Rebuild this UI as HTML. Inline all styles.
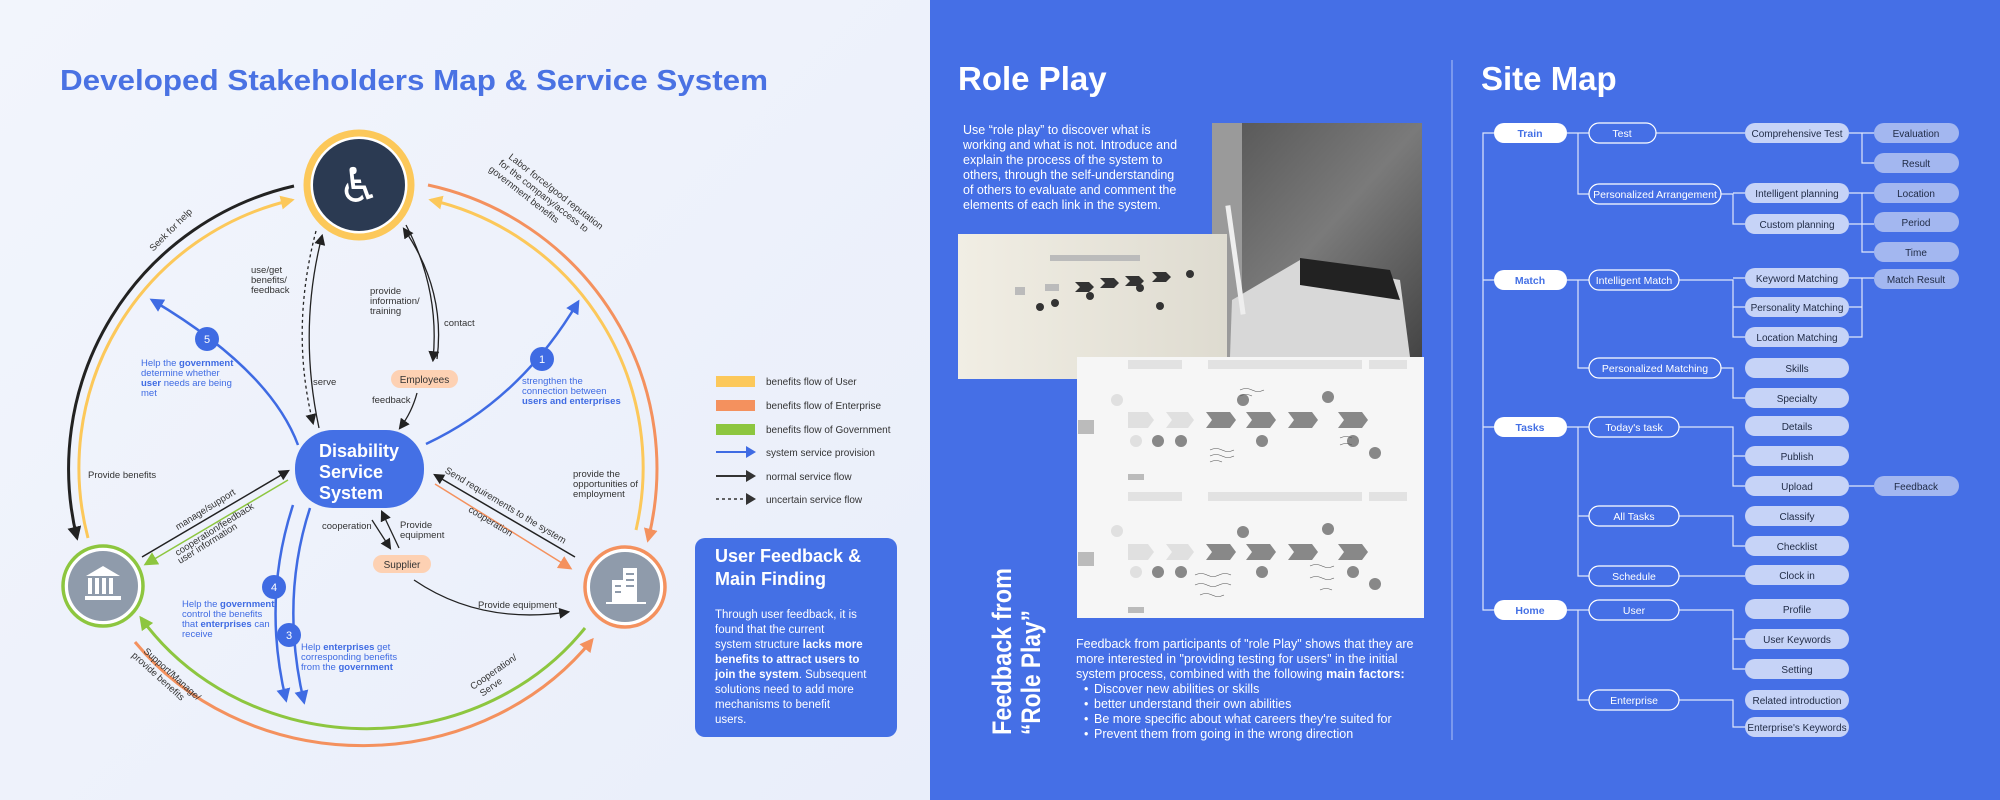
<!DOCTYPE html>
<html><head><meta charset="utf-8">
<style>
html,body{margin:0;padding:0;}
body{width:2000px;height:800px;position:relative;overflow:hidden;font-family:"Liberation Sans",sans-serif;background:#eef2fb;}
.abs{position:absolute;}
</style></head>
<body>
<div class="abs" style="left:0;top:0;width:930px;height:800px;background:linear-gradient(135deg,#f2f5fc,#e9eefa);"></div>
<div class="abs" style="left:930px;top:0;width:1070px;height:800px;background:#456fe6;"></div>

<svg class="abs" style="left:0;top:0" width="2000" height="800" viewBox="0 0 2000 800" font-family="Liberation Sans, sans-serif">
<defs>
<marker id="ak" viewBox="0 0 10 10" refX="8" refY="5" markerWidth="11" markerHeight="11" markerUnits="userSpaceOnUse" orient="auto"><path d="M0,0L10,5L0,10z" fill="#222"/></marker>
<marker id="ab" viewBox="0 0 10 10" refX="8" refY="5" markerWidth="14" markerHeight="14" markerUnits="userSpaceOnUse" orient="auto"><path d="M0,0L10,5L0,10z" fill="#3f6be3"/></marker>
<marker id="ay" viewBox="0 0 10 10" refX="8" refY="5" markerWidth="14" markerHeight="14" markerUnits="userSpaceOnUse" orient="auto"><path d="M0,0L10,5L0,10z" fill="#fcc85a"/></marker>
<marker id="ao" viewBox="0 0 10 10" refX="8" refY="5" markerWidth="14" markerHeight="14" markerUnits="userSpaceOnUse" orient="auto"><path d="M0,0L10,5L0,10z" fill="#f4915e"/></marker>
<marker id="ag" viewBox="0 0 10 10" refX="8" refY="5" markerWidth="14" markerHeight="14" markerUnits="userSpaceOnUse" orient="auto"><path d="M0,0L10,5L0,10z" fill="#8dc63f"/></marker>
<marker id="ak2" viewBox="0 0 10 10" refX="8" refY="5" markerWidth="14" markerHeight="14" markerUnits="userSpaceOnUse" orient="auto"><path d="M0,0L10,5L0,10z" fill="#222"/></marker>
<linearGradient id="gp" x1="0" y1="0" x2="1" y2="1"><stop offset="0" stop-color="#555"/><stop offset="0.5" stop-color="#7a7a7a"/><stop offset="1" stop-color="#444"/></linearGradient>
<linearGradient id="gpaper" x1="0" y1="0" x2="1" y2="0"><stop offset="0" stop-color="#f1eee4"/><stop offset="1" stop-color="#dedbd0"/></linearGradient>
</defs>

<text x="60" y="90" font-size="29" font-weight="bold" fill="#4a72e3" textLength="708" lengthAdjust="spacingAndGlyphs">Developed Stakeholders Map &amp; Service System</text>

<path d="M294,186 A290,290 0 0 0 77,538" fill="none" stroke="#222" stroke-width="3" marker-end="url(#ak2)"/>
<path d="M88,538 A275,275 0 0 1 292,200" fill="none" stroke="#fcc85a" stroke-width="3" marker-end="url(#ay)"/>
<path d="M428,185 A290,290 0 0 1 648,540" fill="none" stroke="#f4915e" stroke-width="3" marker-end="url(#ao)"/>
<path d="M636,530 A275,275 0 0 0 431,200" fill="none" stroke="#fcc85a" stroke-width="3" marker-end="url(#ay)"/>
<path d="M135,642 A285,260 0 0 0 592,640" fill="none" stroke="#f4915e" stroke-width="3" marker-end="url(#ao)"/>
<path d="M585,628 A270,245 0 0 1 141,618" fill="none" stroke="#8dc63f" stroke-width="3" marker-end="url(#ag)"/>

<circle cx="359" cy="185" r="52" fill="#fff" stroke="#fcc85a" stroke-width="7"/>
<circle cx="359" cy="185" r="46" fill="#2b3a52"/>
<text x="359" y="202" font-size="48" fill="#fff" text-anchor="middle" font-family="DejaVu Sans, sans-serif">♿</text>

<circle cx="103" cy="586" r="40" fill="#fff" stroke="#8dc63f" stroke-width="3.5"/>
<circle cx="103" cy="586" r="35" fill="#8f9bab"/>
<g fill="#fff"><path d="M86,576 L103,566 L120,576z"/><rect x="88" y="578" width="4" height="16"/><rect x="95" y="578" width="4" height="16"/><rect x="102" y="578" width="4" height="16"/><rect x="109" y="578" width="4" height="16"/><rect x="85" y="596" width="36" height="4"/></g>

<circle cx="625" cy="587" r="40" fill="#fff" stroke="#f4915e" stroke-width="3.5"/>
<circle cx="625" cy="587" r="35" fill="#8f9bab"/>
<g fill="#fff"><rect x="623" y="568" width="14" height="34"/><rect x="612" y="580" width="12" height="22"/><rect x="606" y="602" width="40" height="2"/></g>
<g fill="#8f9bab"><rect x="626" y="573" width="8" height="2"/><rect x="626" y="579" width="8" height="2"/><rect x="626" y="585" width="8" height="2"/><rect x="615" y="585" width="6" height="2"/><rect x="615" y="591" width="6" height="2"/></g>

<rect x="295" y="430" width="129" height="78" rx="38" fill="#4470e5"/>
<g fill="#fff" font-size="18" font-weight="bold"><text x="319" y="457">Disability</text><text x="319" y="478">Service</text><text x="319" y="499">System</text></g>

<rect x="391" y="370" width="67" height="18" rx="9" fill="#fdd1b3"/>
<text x="424.5" y="383" font-size="10" text-anchor="middle" fill="#333">Employees</text>
<rect x="373" y="555" width="58" height="18" rx="9" fill="#fdd1b3"/>
<text x="402" y="568" font-size="10" text-anchor="middle" fill="#333">Supplier</text>

<path d="M298,445 Q270,370 152,300" fill="none" stroke="#3f6be3" stroke-width="2.5" marker-end="url(#ab)"/>
<path d="M426,444 Q520,400 578,302" fill="none" stroke="#3f6be3" stroke-width="2.5" marker-end="url(#ab)"/>
<path d="M293,505 Q262,600 286,700" fill="none" stroke="#3f6be3" stroke-width="2.5" marker-end="url(#ab)"/>
<path d="M310,508 Q280,600 304,702" fill="none" stroke="#3f6be3" stroke-width="2.5" marker-end="url(#ab)"/>
<g fill="#3f6be3"><circle cx="207" cy="339" r="12"/><circle cx="542" cy="359" r="12"/><circle cx="274" cy="587" r="12"/><circle cx="289" cy="635" r="12"/></g>
<g fill="#fff" font-size="11" text-anchor="middle"><text x="207" y="343">5</text><text x="542" y="363">1</text><text x="274" y="591">4</text><text x="289" y="639">3</text></g>

<path d="M316,231 Q290,330 313,423" fill="none" stroke="#222" stroke-width="1.3" stroke-dasharray="3,3" marker-end="url(#ak)"/>
<path d="M319,428 Q298,330 322,236" fill="none" stroke="#222" stroke-width="1.3" marker-end="url(#ak)"/>
<path d="M406,225 Q440,290 433,360" fill="none" stroke="#222" stroke-width="1.3" marker-end="url(#ak)"/>
<path d="M437,359 Q446,290 404,229" fill="none" stroke="#222" stroke-width="1.3" marker-end="url(#ak)"/>
<path d="M417,393 Q412,412 400,428" fill="none" stroke="#222" stroke-width="1.3" marker-end="url(#ak)"/>
<path d="M142,557 L288,471" fill="none" stroke="#222" stroke-width="1.5" marker-end="url(#ak)"/>
<path d="M288,480 L146,564" fill="none" stroke="#8dc63f" stroke-width="1.5" marker-end="url(#ag)"/>
<path d="M575,557 L435,475" fill="none" stroke="#222" stroke-width="1.5" marker-end="url(#ak)"/>
<path d="M435,484 L570,568" fill="none" stroke="#f4915e" stroke-width="1.5" marker-end="url(#ao)"/>
<path d="M372,520 L390,548" fill="none" stroke="#222" stroke-width="1.3" marker-end="url(#ak)"/>
<path d="M399,548 L382,512" fill="none" stroke="#222" stroke-width="1.3" marker-end="url(#ak)"/>
<path d="M414,580 Q480,625 568,612" fill="none" stroke="#222" stroke-width="1.3" marker-end="url(#ak)"/>

<g font-size="9.5" fill="#333">
<text x="251" y="273">use/get</text><text x="251" y="283">benefits/</text><text x="251" y="293">feedback</text>
<text x="313" y="385">serve</text>
<text x="370" y="294">provide</text><text x="370" y="304">information/</text><text x="370" y="314">training</text>
<text x="444" y="326">contact</text>
<text x="372" y="403">feedback</text>
<text x="573" y="477">provide the</text><text x="573" y="487">opportunities of</text><text x="573" y="497">employment</text>
<text x="88" y="478">Provide benefits</text>
<text x="322" y="529">cooperation</text>
<text x="400" y="528">Provide</text><text x="400" y="538">equipment</text>
<text x="478" y="608">Provide equipment</text>
<text transform="translate(173,232) rotate(-45)" text-anchor="middle">Seek for help</text>
<g transform="translate(508,158) rotate(38)"><text x="0" y="0">Labor force/good  reputation</text><text x="-4" y="11">for the company/access to</text><text x="-8" y="22">government benefits</text></g>
<text transform="translate(207,512) rotate(-32)" text-anchor="middle">manage/support</text>
<text transform="translate(216,532) rotate(-32)" text-anchor="middle">cooperation/feedback</text>
<text transform="translate(209,546) rotate(-32)" text-anchor="middle">user information</text>
<text transform="translate(504,508) rotate(31)" text-anchor="middle">Send requirements to the system</text>
<text transform="translate(489,524) rotate(31)" text-anchor="middle">cooperation</text>
<g transform="translate(143,652) rotate(42)"><text>Support/Manage/</text><text x="-6" y="11">provide benefits</text></g>
<g transform="translate(473,690) rotate(-35)"><text>Cooperation/</text><text x="4" y="11">Serve</text></g>
</g>
<g font-size="9.5" fill="#3f6be3">
<text x="141" y="366">Help the <tspan font-weight="bold">government</tspan></text><text x="141" y="376">determine whether</text><text x="141" y="386"><tspan font-weight="bold">user</tspan> needs are being</text><text x="141" y="396">met</text>
<text x="522" y="384">strengthen the</text><text x="522" y="394">connection between</text><text x="522" y="404" font-weight="bold">users and enterprises</text>
<text x="182" y="607">Help the <tspan font-weight="bold">government</tspan></text><text x="182" y="617">control the benefits</text><text x="182" y="627">that <tspan font-weight="bold">enterprises</tspan> can</text><text x="182" y="637">receive</text>
<text x="301" y="650">Help <tspan font-weight="bold">enterprises</tspan> get</text><text x="301" y="660">corresponding benefits</text><text x="301" y="670">from the <tspan font-weight="bold">government</tspan></text>
</g>

<rect x="716" y="376" width="39" height="11" fill="#fcc85a"/>
<rect x="716" y="400" width="39" height="11" fill="#f4915e"/>
<rect x="716" y="424" width="39" height="11" fill="#8dc63f"/>
<line x1="716" y1="452" x2="748" y2="452" stroke="#3f6be3" stroke-width="2"/><path d="M746,446 L756,452 L746,458z" fill="#3f6be3"/>
<line x1="716" y1="476" x2="748" y2="476" stroke="#333" stroke-width="2"/><path d="M746,470 L756,476 L746,482z" fill="#333"/>
<line x1="716" y1="499" x2="748" y2="499" stroke="#333" stroke-width="1.5" stroke-dasharray="3,3"/><path d="M746,493 L756,499 L746,505z" fill="#333"/>
<g font-size="10" fill="#333"><text x="766" y="385">benefits flow of User</text><text x="766" y="409">benefits flow of Enterprise</text><text x="766" y="433">benefits flow of Government</text><text x="766" y="456">system service provision</text><text x="766" y="480">normal service flow</text><text x="766" y="503">uncertain service flow</text></g>

<rect x="695" y="538" width="202" height="199" rx="10" fill="#4470e5"/>
<g fill="#fff" font-size="18" font-weight="bold"><text x="715" y="562">User Feedback &amp;</text><text x="715" y="585">Main Finding</text></g>
<g fill="#fff" font-size="11.5">
<text x="715" y="618">Through user feedback, it is</text>
<text x="715" y="633">found that the current</text>
<text x="715" y="648">system structure <tspan font-weight="bold">lacks more</tspan></text>
<text x="715" y="663" font-weight="bold">benefits to attract users to</text>
<text x="715" y="678"><tspan font-weight="bold">join the system</tspan>. Subsequent</text>
<text x="715" y="693">solutions need to add more</text>
<text x="715" y="708">mechanisms to benefit</text>
<text x="715" y="723">users.</text>
</g>

<text x="958" y="90" font-size="33" font-weight="bold" fill="#fff">Role Play</text>
<g fill="#fff" font-size="12.5">
<text x="963" y="134">Use “role play” to discover what is</text>
<text x="963" y="149">working and what is not. Introduce and</text>
<text x="963" y="164">explain the process of the system to</text>
<text x="963" y="179">others, through the self-understanding</text>
<text x="963" y="194">of others to evaluate and comment  the</text>
<text x="963" y="209">elements of each link in the system.</text>
</g>
<rect x="1212" y="123" width="210" height="234" fill="url(#gp)"/>
<rect x="1212" y="123" width="30" height="234" fill="#9a9a9a"/>
<path d="M1232,300 L1300,260 L1400,280 L1410,357 L1230,357z" fill="#d8d8d8"/>
<path d="M1300,258 L1390,270 L1400,300 L1300,285z" fill="#222"/>
<rect x="1233" y="205" width="5" height="110" fill="#eee" transform="rotate(-8 1235 260)"/>
<rect x="958" y="234" width="269" height="145" fill="url(#gpaper)"/>
<g fill="#333"><path d="M1075,282 l14,0 l5,5 l-5,5 l-14,0 l5,-5z"/><path d="M1100,278 l14,0 l5,5 l-5,5 l-14,0 l5,-5z"/><path d="M1125,276 l14,0 l5,5 l-5,5 l-14,0 l5,-5z"/><path d="M1152,272 l14,0 l5,5 l-5,5 l-14,0 l5,-5z"/><circle cx="1040" cy="307" r="4"/><circle cx="1055" cy="303" r="4"/><circle cx="1090" cy="296" r="4"/><circle cx="1140" cy="288" r="4"/><circle cx="1160" cy="306" r="4"/><circle cx="1190" cy="274" r="4"/></g>
<g fill="#bbb"><rect x="1015" y="287" width="10" height="8"/><rect x="1045" y="284" width="14" height="7"/><rect x="1050" y="255" width="90" height="6"/></g>
<rect x="1077" y="357" width="347" height="261" fill="#f6f6f6"/>
<g fill="#e2e2e2"><rect x="1128" y="360" width="54" height="9"/><rect x="1208" y="360" width="154" height="9"/><rect x="1369" y="360" width="38" height="9"/><rect x="1128" y="492" width="54" height="9"/><rect x="1208" y="492" width="154" height="9"/><rect x="1369" y="492" width="38" height="9"/></g>
<g fill="#888"><path d="M1206,412 h24 l6,8 l-6,8 h-24 l6,-8z"/><path d="M1246,412 h24 l6,8 l-6,8 h-24 l6,-8z"/><path d="M1288,412 h24 l6,8 l-6,8 h-24 l6,-8z"/><path d="M1338,412 h24 l6,8 l-6,8 h-24 l6,-8z"/><path d="M1206,544 h24 l6,8 l-6,8 h-24 l6,-8z"/><path d="M1246,544 h24 l6,8 l-6,8 h-24 l6,-8z"/><path d="M1288,544 h24 l6,8 l-6,8 h-24 l6,-8z"/><path d="M1338,544 h24 l6,8 l-6,8 h-24 l6,-8z"/>
<circle cx="1158" cy="441" r="6"/><circle cx="1181" cy="441" r="6"/><circle cx="1262" cy="441" r="6"/><circle cx="1353" cy="441" r="6"/><circle cx="1375" cy="453" r="6"/><circle cx="1243" cy="400" r="6"/><circle cx="1328" cy="397" r="6"/><circle cx="1158" cy="572" r="6"/><circle cx="1181" cy="572" r="6"/><circle cx="1262" cy="572" r="6"/><circle cx="1353" cy="572" r="6"/><circle cx="1375" cy="584" r="6"/><circle cx="1243" cy="532" r="6"/><circle cx="1328" cy="529" r="6"/></g>
<g fill="#bbb"><rect x="1078" y="420" width="16" height="14"/><rect x="1078" y="552" width="16" height="14"/><rect x="1128" y="474" width="16" height="6"/><rect x="1128" y="607" width="16" height="6"/></g>
<g fill="#e0e0e0"><path d="M1128,412 h20 l6,8 l-6,8 h-20z"/><path d="M1166,412 h22 l6,8 l-6,8 h-22 l6,-8z"/><path d="M1128,544 h20 l6,8 l-6,8 h-20z"/><path d="M1166,544 h22 l6,8 l-6,8 h-22 l6,-8z"/><circle cx="1136" cy="441" r="6"/><circle cx="1136" cy="572" r="6"/><circle cx="1117" cy="400" r="6"/><circle cx="1117" cy="531" r="6"/></g>
<g stroke="#555" stroke-width="0.6" fill="none"><path d="M1210,450 q6,-3 12,0 q6,3 12,0 M1210,456 q6,-3 12,0 q6,3 12,0 M1210,462 q6,-3 12,0 M1240,390 q6,-3 12,0 q6,3 12,0 M1240,396 q6,-3 12,0 M1340,438 q6,-3 12,0 M1340,445 q6,-3 12,0 M1195,575 q6,-3 12,0 q6,3 12,0 q6,-3 12,0 M1195,585 q6,-3 12,0 q6,3 12,0 q6,-3 12,0 M1200,595 q6,-3 12,0 q6,3 12,0 M1310,566 q6,-3 12,0 q6,3 12,0 M1310,578 q6,-3 12,0 q6,3 12,0 M1320,590 q6,-3 12,0"/></g>

<g fill="#fff" font-size="27" font-weight="bold">
<text transform="translate(1011,735) rotate(-90)" textLength="167" lengthAdjust="spacingAndGlyphs">Feedback from</text>
<text transform="translate(1040,735) rotate(-90)" textLength="125" lengthAdjust="spacingAndGlyphs">“Role Play”</text>
</g>
<g fill="#fff" font-size="12.5">
<text x="1076" y="648">Feedback from participants of "role Play" shows that they are</text>
<text x="1076" y="663">more interested in "providing testing for users" in the initial</text>
<text x="1076" y="678">system process, combined with the following <tspan font-weight="bold">main factors:</tspan></text>
<text x="1084" y="693">•</text><text x="1094" y="693">Discover new abilities or skills</text>
<text x="1084" y="708">•</text><text x="1094" y="708">better understand their own abilities</text>
<text x="1084" y="723">•</text><text x="1094" y="723">Be more specific about what careers they're suited for</text>
<text x="1084" y="738">•</text><text x="1094" y="738">Prevent them from going in the wrong direction</text>
</g>

<line x1="1452" y1="60" x2="1452" y2="740" stroke="#9fb5f2" stroke-width="1.2"/>
<text x="1481" y="90" font-size="33" font-weight="bold" fill="#fff">Site Map</text>
<g stroke="#dfe6fb" stroke-width="1.2" fill="none">
<path d="M1494,133 H1483 V610 H1494 M1483,280 H1494 M1483,427 H1494"/>
<path d="M1567,133 H1578 V194 H1589 M1578,133 H1589"/>
<path d="M1567,280 H1578 V368 H1589 M1578,280 H1589"/>
<path d="M1567,427 H1578 V576 H1589 M1578,427 H1589 M1578,516 H1589"/>
<path d="M1567,610 H1578 V700 H1589 M1578,610 H1589"/>
<path d="M1656,133 H1745"/>
<path d="M1721,194 H1733 V224 H1745 M1733,193 H1745"/>
<path d="M1679,280 H1733 V337 H1745 M1733,278 H1745 M1733,307 H1745"/>
<path d="M1721,368 H1733 V398 H1745"/>
<path d="M1679,427 H1733 V486 H1745 M1733,456 H1745"/>
<path d="M1679,516 H1733 V546 H1745"/>
<path d="M1679,576 H1745"/>
<path d="M1679,610 H1733 V669 H1745 M1733,639 H1745"/>
<path d="M1679,700 H1733 V727 H1745"/>
<path d="M1849,133 H1862 V163 H1874 M1862,133 H1874"/>
<path d="M1849,193 H1862 V252 H1874 M1862,193 H1874 M1849,224 H1874"/>
<path d="M1849,278 H1874 M1862,278 V337 H1849 M1862,307 H1849"/>
<path d="M1849,486 H1874"/>
</g>
<g font-size="10.5" text-anchor="middle">
<g fill="#fff"><rect x="1494" y="123" width="73" height="20" rx="10"/><rect x="1494" y="270" width="73" height="20" rx="10"/><rect x="1494" y="417" width="73" height="20" rx="10"/><rect x="1494" y="600" width="73" height="20" rx="10"/></g>
<g fill="#4470e5" font-weight="bold"><text x="1530" y="137">Train</text><text x="1530" y="284">Match</text><text x="1530" y="431">Tasks</text><text x="1530" y="614">Home</text></g>
<g fill="none" stroke="#fff" stroke-width="1.2">
<rect x="1589" y="123" width="67" height="20" rx="10"/><rect x="1589" y="184" width="132" height="20" rx="10"/><rect x="1589" y="270" width="90" height="20" rx="10"/><rect x="1589" y="358" width="132" height="20" rx="10"/><rect x="1589" y="417" width="90" height="20" rx="10"/><rect x="1589" y="506" width="90" height="20" rx="10"/><rect x="1589" y="566" width="90" height="20" rx="10"/><rect x="1589" y="600" width="90" height="20" rx="10"/><rect x="1589" y="690" width="90" height="20" rx="10"/>
</g>
<g fill="#fff"><text x="1622" y="137">Test</text><text x="1655" y="198">Personalized Arrangement</text><text x="1634" y="284">Intelligent Match</text><text x="1655" y="372">Personalized Matching</text><text x="1634" y="431">Today's task</text><text x="1634" y="520">All Tasks</text><text x="1634" y="580">Schedule</text><text x="1634" y="614">User</text><text x="1634" y="704">Enterprise</text></g>
<g fill="#c6d3f7">
<rect x="1745" y="123" width="104" height="20" rx="10"/><rect x="1745" y="183" width="104" height="20" rx="10"/><rect x="1745" y="214" width="104" height="20" rx="10"/><rect x="1745" y="268" width="104" height="20" rx="10"/><rect x="1745" y="297" width="104" height="20" rx="10"/><rect x="1745" y="327" width="104" height="20" rx="10"/><rect x="1745" y="358" width="104" height="20" rx="10"/><rect x="1745" y="388" width="104" height="20" rx="10"/><rect x="1745" y="416" width="104" height="20" rx="10"/><rect x="1745" y="446" width="104" height="20" rx="10"/><rect x="1745" y="476" width="104" height="20" rx="10"/><rect x="1745" y="506" width="104" height="20" rx="10"/><rect x="1745" y="536" width="104" height="20" rx="10"/><rect x="1745" y="565" width="104" height="20" rx="10"/><rect x="1745" y="599" width="104" height="20" rx="10"/><rect x="1745" y="629" width="104" height="20" rx="10"/><rect x="1745" y="659" width="104" height="20" rx="10"/><rect x="1745" y="690" width="104" height="20" rx="10"/><rect x="1745" y="717" width="104" height="20" rx="10"/>
</g>
<g fill="#1f2a44" font-size="10">
<text x="1797" y="137">Comprehensive Test</text><text x="1797" y="197">Intelligent planning</text><text x="1797" y="228">Custom planning</text><text x="1797" y="282">Keyword Matching</text><text x="1797" y="311">Personality Matching</text><text x="1797" y="341">Location Matching</text><text x="1797" y="372">Skills</text><text x="1797" y="402">Specialty</text><text x="1797" y="430">Details</text><text x="1797" y="460">Publish</text><text x="1797" y="490">Upload</text><text x="1797" y="520">Classify</text><text x="1797" y="550">Checklist</text><text x="1797" y="579">Clock in</text><text x="1797" y="613">Profile</text><text x="1797" y="643">User Keywords</text><text x="1797" y="673">Setting</text><text x="1797" y="704">Related introduction</text><text x="1797" y="731">Enterprise's Keywords</text>
</g>
<g fill="#a3b7f0">
<rect x="1874" y="123" width="85" height="20" rx="10"/><rect x="1874" y="153" width="85" height="20" rx="10"/><rect x="1874" y="183" width="85" height="20" rx="10"/><rect x="1874" y="212" width="85" height="20" rx="10"/><rect x="1874" y="242" width="85" height="20" rx="10"/><rect x="1874" y="269" width="85" height="20" rx="10"/><rect x="1874" y="476" width="85" height="20" rx="10"/>
</g>
<g fill="#1f2a44" font-size="10">
<text x="1916" y="137">Evaluation</text><text x="1916" y="167">Result</text><text x="1916" y="197">Location</text><text x="1916" y="226">Period</text><text x="1916" y="256">Time</text><text x="1916" y="283">Match Result</text><text x="1916" y="490">Feedback</text>
</g>
</g>
</svg>
</body></html>
